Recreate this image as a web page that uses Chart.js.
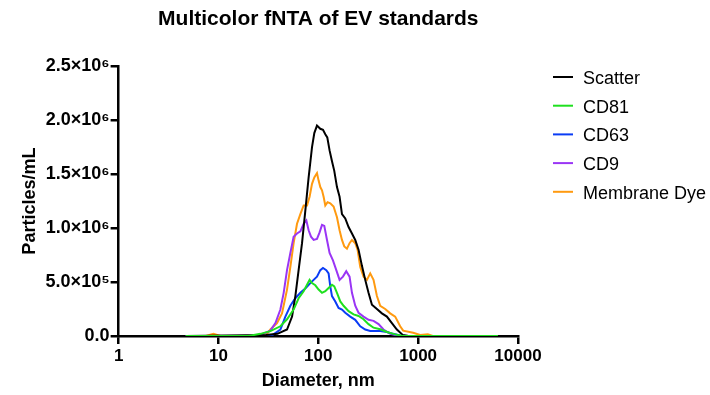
<!DOCTYPE html>
<html>
<head>
<meta charset="utf-8">
<script src="https://cdn.jsdelivr.net/npm/chart.js@4/dist/chart.umd.min.js"></script>
<style>
  body { margin: 0; background: #fff; }
  #wrap { width: 710px; height: 395px; position: relative; }
</style>
</head>
<body>
<div id="wrap"><canvas id="ntaChart"></canvas></div>
<script>
// Diameter (nm) and particles/mL (x 10^6)
const scatterD = [4.7, 30, 38.9, 48.6, 54.6, 58.9, 63.5, 68.7, 74.1, 80.0, 86.5, 91.2, 97.0, 104.7, 111.4, 117.5, 123.0, 129.7, 137.1, 144.5, 153.8, 163.3, 172.6, 186.2, 201.0, 217.3, 234.4, 252.9, 273.5, 295.1, 318.4, 344.4, 386.4, 433.5, 486.4, 545.8, 612.4, 700, 800, 6300];
const scatterY = [0, 0.01, 0.02, 0.06, 0.18, 0.37, 0.61, 0.86, 1.16, 1.47, 1.75, 1.88, 1.95, 1.92, 1.91, 1.87, 1.84, 1.72, 1.62, 1.53, 1.38, 1.29, 1.13, 1.09, 1.01, 0.95, 0.89, 0.80, 0.65, 0.52, 0.40, 0.29, 0.25, 0.21, 0.18, 0.12, 0.06, 0.01, 0, 0];

const cd81D = [4.7, 20, 26.3, 33.1, 41.7, 48.6, 56.6, 63.5, 71.3, 77.1, 81.8, 86.5, 93.3, 100.7, 108.9, 117.5, 126.8, 137.1, 144.5, 153.8, 166.0, 179.1, 201.0, 225.4, 252.9, 283.8, 318.4, 357.3, 416.9, 486.4, 589.0, 700, 6300];
const cd81Y = [0, 0, 0.02, 0.045, 0.09, 0.155, 0.245, 0.35, 0.415, 0.475, 0.52, 0.49, 0.47, 0.43, 0.40, 0.415, 0.445, 0.475, 0.46, 0.40, 0.32, 0.28, 0.23, 0.20, 0.185, 0.155, 0.11, 0.077, 0.062, 0.037, 0.015, 0, 0];

const cd63D = [4.7, 30, 35, 41.7, 46.8, 52.5, 58.9, 66.1, 74.1, 83.2, 89.8, 97.0, 104.7, 111.4, 120.2, 126.8, 131.8, 137.1, 147.9, 159.6, 172.6, 186.2, 208.9, 234.4, 263.0, 295.1, 331.1, 416.9, 486.4, 562.0, 660, 800, 6300];
const cd63Y = [0, 0, 0.01, 0.06, 0.18, 0.28, 0.35, 0.40, 0.44, 0.49, 0.52, 0.55, 0.61, 0.63, 0.61, 0.58, 0.46, 0.37, 0.32, 0.26, 0.245, 0.215, 0.18, 0.15, 0.09, 0.06, 0.046, 0.046, 0.037, 0.02, 0.005, 0, 0];

const cd9D = [4.7, 20, 26.3, 33.1, 37.2, 41.7, 45.0, 48.6, 52.5, 56.6, 61.2, 66.1, 71.3, 75.9, 80.0, 84.5, 89.8, 97.0, 103.0, 108.9, 114.8, 122.2, 129.7, 140.2, 151.4, 163.3, 176.6, 190.5, 205.6, 217.3, 234.4, 252.9, 283.8, 318.4, 357.3, 401.0, 449.8, 524.8, 650, 6300];
const cd9Y = [0, 0, 0.01, 0.05, 0.12, 0.245, 0.40, 0.61, 0.77, 0.92, 0.95, 0.97, 1.04, 1.07, 0.98, 0.92, 0.89, 0.90, 0.96, 1.03, 1.02, 0.89, 0.77, 0.70, 0.61, 0.52, 0.55, 0.60, 0.55, 0.40, 0.28, 0.215, 0.18, 0.15, 0.14, 0.11, 0.06, 0.02, 0, 0];

const dyeD = [4.7, 7.5, 8.9, 10.5, 20, 30, 33.1, 38.6, 43.3, 48.6, 52.5, 56.6, 61.2, 66.1, 71.3, 77.1, 81.8, 86.5, 91.2, 97.0, 100.7, 104.7, 108.9, 113.0, 117.5, 123.9, 131.8, 142.2, 153.8, 163.3, 172.6, 182.0, 193.6, 205.6, 217.3, 234.4, 247.2, 263.0, 283.8, 306.9, 331.1, 357.3, 386.4, 416.9, 467.7, 524.8, 588.8, 660.7, 707.9, 891.3, 1047, 1250, 1400, 6300];
const dyeY = [0, 0, 0.02, 0, 0, 0.01, 0.06, 0.12, 0.21, 0.43, 0.64, 0.86, 1.04, 1.13, 1.21, 1.21, 1.29, 1.41, 1.47, 1.51, 1.44, 1.38, 1.35, 1.29, 1.21, 1.24, 1.23, 1.20, 1.10, 0.98, 0.89, 0.83, 0.81, 0.86, 0.89, 0.86, 0.80, 0.64, 0.55, 0.52, 0.58, 0.52, 0.37, 0.28, 0.25, 0.21, 0.18, 0.09, 0.05, 0.03, 0.01, 0.015, 0, 0];

const xTickValues = [1, 10, 100, 1000, 10000];
const xTickLabels = ['1', '10', '100', '1000', '10000'];
const yTickValues = [0, 500000, 1000000, 1500000, 2000000, 2500000];
const yTickLabels = ['0.0', '5.0×10⁵', '1.0×10⁶', '1.5×10⁶', '2.0×10⁶', '2.5×10⁶'];

const FONT = '"Liberation Sans", Arial, Helvetica, sans-serif';

function toPoints(d, y) {
    return d.map((v, i) => ({ x: v, y: y[i] * 1e6 }));
}

function makeSet(label, color, d, y, order) {
    return {
        label: label,
        data: toPoints(d, y),
        borderColor: color,
        backgroundColor: color,
        borderWidth: 2,
        pointRadius: 0,
        tension: 0,
        fill: false,
        order: order
    };
}

// legend drawn to the right of the plot, like the original
const sideLegend = {
    id: 'sideLegend',
    afterDraw(chart) {
        const ctx = chart.ctx;
        ctx.save();
        ctx.font = '18px ' + FONT;
        ctx.textBaseline = 'middle';
        chart.data.datasets.forEach((ds, i) => {
            const y = 77 + i * 28.7;
            ctx.strokeStyle = ds.borderColor;
            ctx.lineWidth = 2;
            ctx.beginPath();
            ctx.moveTo(553, y);
            ctx.lineTo(573, y);
            ctx.stroke();
            ctx.fillStyle = '#000';
            ctx.fillText(ds.label, 583, y + 2);
        });
        ctx.restore();
    }
};

const ctx = document.getElementById('ntaChart').getContext('2d');
new Chart(ctx, {
    type: 'line',
    data: {
        datasets: [
            makeSet('Scatter', '#000000', scatterD, scatterY, 1),
            makeSet('CD81', '#1fe01f', cd81D, cd81Y, 0),
            makeSet('CD63', '#0a3cf5', cd63D, cd63Y, 2),
            makeSet('CD9', '#9a35f5', cd9D, cd9Y, 3),
            makeSet('Membrane Dye', '#ff9a10', dyeD, dyeY, 4)
        ]
    },
    options: {
        responsive: true,
        maintainAspectRatio: false,
        animation: false,
        layout: {
            padding: { left: 11, right: 192, top: 0, bottom: 3 }
        },
        plugins: {
            legend: { display: false },
            tooltip: { enabled: false },
            title: {
                display: true,
                text: 'Multicolor fNTA of EV standards',
                fullSize: false,
                color: '#000',
                font: { family: FONT, size: 21, weight: 'bold' },
                padding: { top: 7, bottom: 34 }
            }
        },
        scales: {
            x: {
                type: 'logarithmic',
                min: 1,
                max: 10000,
                afterBuildTicks: axis => {
                    axis.ticks = xTickValues.map(v => ({ value: v, major: true }));
                },
                ticks: {
                    color: '#000',
                    font: { family: FONT, size: 17, weight: 'bold' },
                    padding: 2,
                    maxRotation: 0,
                    autoSkip: false,
                    callback: value => {
                        const i = xTickValues.indexOf(value);
                        return i >= 0 ? xTickLabels[i] : '';
                    }
                },
                grid: {
                    drawOnChartArea: false,
                    drawTicks: true,
                    tickLength: 8,
                    color: '#000',
                    lineWidth: 2.5
                },
                border: { color: '#000', width: 2.5 },
                title: {
                    display: true,
                    text: 'Diameter, nm',
                    color: '#000',
                    font: { family: FONT, size: 18, weight: 'bold' },
                    padding: { top: 2, bottom: 0 }
                }
            },
            y: {
                min: 0,
                max: 2500000,
                afterBuildTicks: axis => {
                    axis.ticks = yTickValues.map(v => ({ value: v }));
                },
                ticks: {
                    color: '#000',
                    font: { family: FONT, size: 18, weight: 'bold' },
                    padding: 1,
                    callback: value => {
                        const i = yTickValues.indexOf(value);
                        return i >= 0 ? yTickLabels[i] : '';
                    }
                },
                grid: {
                    drawOnChartArea: false,
                    drawTicks: true,
                    tickLength: 8,
                    color: '#000',
                    lineWidth: 2.5
                },
                border: { color: '#000', width: 2.5 },
                title: {
                    display: true,
                    text: 'Particles/mL',
                    color: '#000',
                    font: { family: FONT, size: 18, weight: 'bold' },
                    padding: { top: 8, bottom: 4 }
                }
            }
        }
    },
    plugins: [sideLegend]
});
</script>
</body>
</html>
